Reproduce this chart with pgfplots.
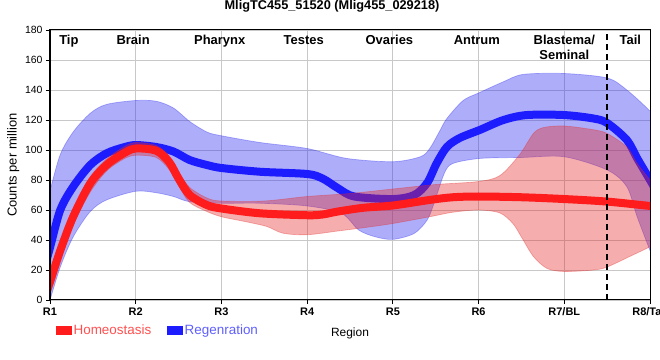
\documentclass[border=0pt]{standalone}
\usepackage{fontspec}
\setmainfont{Liberation Sans}
\usepackage{pgfplots}
\pgfplotsset{compat=1.18}
\definecolor{hred}{RGB}{255,28,28}
\definecolor{rblue}{RGB}{28,28,255}
\definecolor{bandred}{RGB}{228,40,40}
\definecolor{bandblue}{RGB}{40,40,240}
\definecolor{hredtext}{RGB}{255,80,80}
\definecolor{rbluetext}{RGB}{95,95,255}
\definecolor{gridgray}{RGB}{200,200,200}
\begin{document}
\begin{tikzpicture}
\begin{axis}[
  at={(0,0)}, anchor=south west,
  scale only axis, width=600bp, height=270bp,
  xmin=0, xmax=7, ymin=0, ymax=180,
  xtick={0,1,2,3,4,5,6,7},
  xticklabels={R1,R2,R3,R4,R5,R6,R7/BL,R8/Tail},
  ytick={0,20,...,180},
  grid=major, grid style={gridgray, line width=0.8bp},
  axis line style={black, line width=1bp},
  tick pos=left, tick align=outside, major tick length=4bp,
  tick style={black, line width=0.8bp},
  /pgf/number format/assume math mode=true,
  yticklabel style={font=\fontsize{10.5}{12}\selectfont},
  xticklabel style={font=\bfseries\fontsize{11}{13}\selectfont},
  xlabel={Region},
  xlabel style={at={(axis description cs:0.5,0)}, anchor=base, yshift=-36bp, font=\fontsize{12}{14}\selectfont},
  ylabel={Counts per million},
  ylabel style={at={(axis description cs:-0.061,0.5)}, anchor=center, font=\fontsize{13}{15}\selectfont},
  title={MligTC455\_51520 (Mlig455\_029218)},
  title style={at={(axis description cs:0.47,1)}, anchor=base, yshift=15bp, font=\bfseries\fontsize{12.8}{15}\selectfont},
  legend columns=2,
  legend style={at={(axis description cs:0.01,-0.111)}, anchor=west, draw=none, fill=none, inner sep=0pt,
    font=\fontsize{13.5}{15}\selectfont, /tikz/every even column/.append style={column sep=14bp}},
  legend cell align=left,
]
\addlegendimage{legend image code/.code={\fill[hred] (0bp,-3.8bp) rectangle (15bp,3.8bp);}}
\addlegendentry{\textcolor{hredtext}{Homeostasis}}
\addlegendimage{legend image code/.code={\fill[rblue] (0bp,-3.8bp) rectangle (15bp,3.8bp);}}
\addlegendentry{\textcolor{rbluetext}{Regenration}}

% Regeneration band
\addplot[smooth, fill=bandblue, fill opacity=0.38, draw=bandblue, draw opacity=0.35, line width=0.7bp, forget plot]
 coordinates {(-0.1,53) (0,73) (0.12,97) (0.27,112) (0.47,124.5) (0.66,130.4) (1,133) (1.24,132.5) (1.44,128) (1.63,119) (1.83,112) (2,109.5) (2.45,105) (3,101) (3.46,94.4) (4,92.2) (4.32,95.5) (4.43,101) (4.55,113) (4.63,121) (4.82,133) (5,138) (5.29,145.5) (5.52,150.4) (6,151) (6.5,148) (6.73,140) (7,126) (7.1,119)
 (7.1,18) (7,33) (6.85,55.5) (6.73,75.5) (6.5,86.7) (6,95.5) (5.5,95) (5.02,94.4) (4.7,91) (4.6,84.4) (4.48,64.4) (4.4,53.3) (4.25,44.4) (4,40.4) (3.79,42.2) (3.6,46.7) (3.4,57.8) (3,62.7) (2.45,64.5) (2,64.5) (1.63,65.5) (1.44,69) (1.24,71.5) (1,72.5) (0.66,66.7) (0.47,59) (0.27,42) (0.12,22) (0,0) (-0.1,-18)} -- cycle;

% Regeneration mean
\addplot[smooth, rblue, line width=8bp, forget plot]
 coordinates {(-0.1,14) (0,35) (0.12,60) (0.27,75.5) (0.47,90) (0.66,97.8) (0.86,101.8) (1,103.3) (1.24,102) (1.44,99) (1.63,93.3) (1.83,90) (2,88) (2.45,85.5) (3,84) (3.18,81) (3.36,74.5) (3.55,69) (4,67.3) (4.25,70) (4.4,78) (4.51,91) (4.63,102) (4.78,108) (5.02,113.5) (5.29,120) (5.56,123.3) (6,123.3) (6.34,121) (6.5,118) (6.73,106.7) (6.85,94.5) (7,80) (7.1,70)};

% Homeostasis band
\addplot[smooth, fill=bandred, fill opacity=0.38, draw=bandred, draw opacity=0.35, line width=0.7bp, forget plot]
 coordinates {(-0.1,-2) (0,16) (0.12,38) (0.27,60) (0.47,82) (0.66,94) (0.86,102) (1,105) (1.24,103) (1.39,96) (1.5,85) (1.63,75) (1.83,68) (2,66) (2.5,66) (3,69) (3.5,71) (4,74) (4.5,77) (5,79) (5.25,83) (5.48,97) (5.64,111) (5.76,115) (6,116) (6.34,113.5) (6.5,111) (6.73,102) (6.85,91) (7,80) (7.1,72)
 (7.1,39) (7,35.5) (6.8,30) (6.5,22) (6.34,20) (6,19) (5.8,21) (5.64,29) (5.5,42) (5.4,51) (5.25,58) (5,60) (4.7,58.5) (4.43,55.5) (4,51) (3.7,48.5) (3.36,46) (3,43.5) (2.72,44.5) (2.53,49) (2.3,52) (2,55.5) (1.83,59) (1.63,65) (1.5,76) (1.39,87) (1.24,95) (1,96.5) (0.86,94) (0.66,86) (0.47,72) (0.27,50) (0.12,28) (0,8) (-0.1,-9)} -- cycle;

% Homeostasis mean
\addplot[smooth, hred, line width=8bp, forget plot]
 coordinates {(-0.1,-5) (0,12) (0.12,33) (0.27,55.5) (0.47,77.8) (0.66,90) (0.86,97.8) (1,101) (1.24,99.5) (1.39,92) (1.5,81) (1.63,70) (1.83,63.3) (2,61) (2.45,57.8) (3,56.5) (3.18,57) (3.36,59) (3.66,61.5) (4,63) (4.43,66.7) (4.7,68.5) (5,69) (5.5,68.5) (6,67.3) (6.5,65.6) (7,62.7) (7.1,62.4)};

% dashed separator
\addplot[black, line width=2bp, dash pattern=on 6bp off 4bp, forget plot] coordinates {(6.5,0) (6.5,180)};

% region names
\begin{scope}[every node/.style={font=\bfseries\fontsize{13}{15}\selectfont, anchor=base}]
\node at (axis cs:0.22,170.3) {Tip};
\node at (axis cs:0.97,170.3) {Brain};
\node at (axis cs:1.98,170.3) {Pharynx};
\node at (axis cs:2.96,170.3) {Testes};
\node at (axis cs:3.96,170.3) {Ovaries};
\node at (axis cs:4.98,170.3) {Antrum};
\node at (axis cs:6.0,170.3) {Blastema/};
\node at (axis cs:6.0,160.5) {Seminal};
\node at (axis cs:6.77,170.3) {Tail};
\end{scope}

\draw[black, line width=2.2bp] (rel axis cs:0,1) -- (rel axis cs:0,0) -- (rel axis cs:1,0);
\end{axis}
\pgfresetboundingbox
\path[use as bounding box] (-50bp,-60bp) rectangle (610bp,300bp);
\end{tikzpicture}
\end{document}
